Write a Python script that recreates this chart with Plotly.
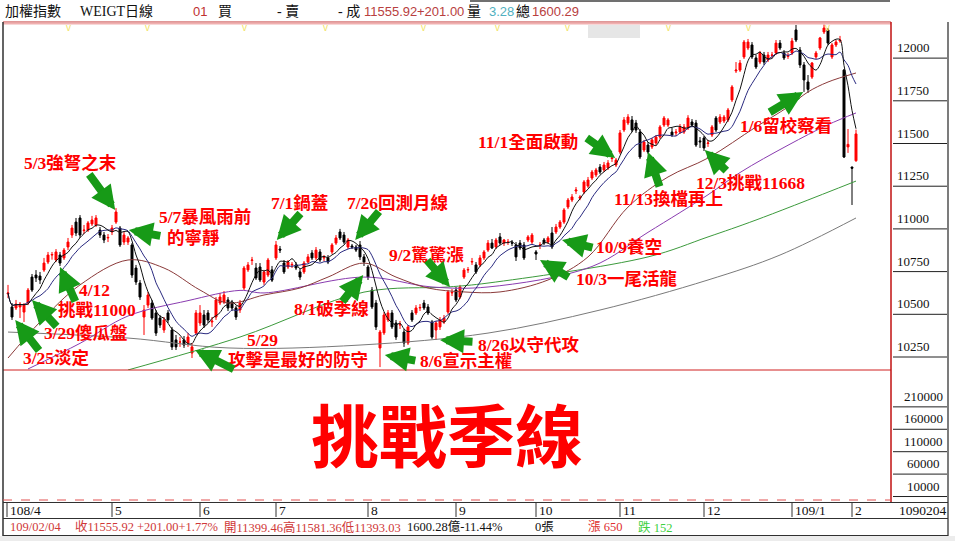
import plotly.graph_objects as go
import pandas as pd

# ---- daily candles, trading-day index 0 = 108/03/22 ----
open_ = [10620,10543,10537,10543,10513,10566,
 10718,10730,10724,10759,10806,10847,10818,10847,10830,10894,10964,11040,11064,10990,10993,11029,11023,10993,10964,10947,
 10982,11040,11005,10923,10923,10906,10771,10683,10484,10554,10566,10508,10478,10408,10508,10408,10350,10338,10350,10332,10273,10390,
 10449,10496,10508,10455,10484,10566,10572,10584,10566,10537,10525,10654,10760,10815,10771,10777,10689,10730,10760,
 10830,10882,10800,10777,10789,10789,10748,10748,10806,10859,10830,10865,10830,10830,10865,10917,10982,10964,10894,10900,10894,10906,10836,
 10777,10642,10566,10303,10391,10467,10508,10449,10437,10396,10332,10508,10508,10537,10566,10543,10455,10408,10426,10455,10513,10625,
 10642,10601,10718,10759,10806,10789,10789,10830,10876,10917,10894,10953,10917,10920,10918,10906,10917,10906,10935,10923,
 10865,10903,10935,10923,10976,10982,11011,11040,11128,11169,11222,11180,11216,11251,11298,11316,11362,11345,11357,11412,11374,
 11450,11579,11620,11638,11620,11567,11462,11491,11480,11503,11538,11608,11608,11567,11562,11567,11567,11591,11626,11620,11515,
 11532,11500,11550,11649,11626,11632,11638,11755,11925,11930,12007,12059,12077,12001,11977,12018,11989,12016,12030,12088,12030,12010,
 12030,12165,12047,11960,11860,11889,12007,12059,12153,12165,12007,12077,12100,11930,11480,
 11362,11399]
high = [10672,10566,10584,10572,10566,10654,
 10736,10759,10748,10830,10865,10865,10882,10865,10888,10947,11023,11064,11081,11023,11046,11076,11081,11011,10982,10970,
 11023,11122,11017,10982,10958,10917,10789,10701,10554,10631,10584,10525,10496,10484,10525,10426,10379,10367,10373,10391,10332,10525,
 10554,10525,10525,10484,10601,10625,10636,10601,10584,10549,10584,10783,10806,10836,10800,10800,10760,10830,10783,
 10929,10900,10818,10818,10806,10806,10765,10812,10853,10876,10894,10882,10847,10847,10917,10964,11000,10982,10947,10912,10906,10929,10853,
 10789,10660,10584,10408,10513,10525,10525,10467,10461,10414,10437,10525,10554,10560,10584,10560,10467,10461,10484,10496,10642,10648,
 10660,10672,10771,10777,10830,10806,10847,10876,10935,10941,10947,10976,10941,10941,10935,10923,10935,10923,10964,10976,
 10876,10923,10947,10958,11011,11029,11052,11122,11181,11204,11245,11198,11286,11304,11345,11357,11380,11392,11403,11433,11415,
 11579,11655,11672,11661,11638,11585,11521,11509,11532,11550,11608,11661,11649,11591,11585,11614,11614,11666,11643,11638,11538,
 11544,11521,11608,11661,11672,11667,11708,11842,11977,11989,12106,12112,12094,12018,12042,12036,12036,12036,12106,12106,12047,12030,
 12118,12194,12065,11977,11901,11977,12042,12124,12197,12176,12088,12106,12130,11936,11585,
 11365,11581]
low = [10595,10467,10525,10478,10455,10554,
 10631,10689,10677,10748,10794,10820,10806,10783,10818,10876,10947,10958,10947,10970,10982,11017,11011,10947,10917,10923,
 10964,11029,10894,10906,10906,10713,10672,10584,10379,10537,10467,10373,10420,10391,10449,10291,10291,10309,10303,10309,10244,10379,
 10432,10420,10449,10426,10467,10554,10560,10519,10519,10467,10508,10642,10748,10789,10701,10689,10672,10718,10689,
 10818,10859,10736,10765,10771,10759,10701,10736,10800,10818,10818,10806,10812,10794,10853,10906,10935,10912,10882,10882,10865,10818,10783,
 10701,10531,10408,10191,10379,10455,10414,10350,10414,10309,10320,10455,10496,10519,10525,10496,10356,10350,10408,10443,10502,10607,
 10572,10590,10707,10742,10789,10736,10777,10818,10865,10882,10882,10906,10900,10906,10900,10812,10876,10818,10923,10912,
 10818,10882,10906,10912,10882,10970,11000,11029,11116,11157,11204,11168,11204,11240,11286,11304,11321,11333,11345,11392,11362,
 11438,11567,11608,11567,11562,11409,11450,11438,11468,11491,11526,11597,11597,11538,11544,11556,11556,11579,11597,11480,11474,
 11456,11480,11538,11567,11614,11620,11626,11743,11913,11919,11995,12047,11995,11936,11965,11960,11977,12001,12018,12047,11989,11995,
 12018,12094,11942,11802,11796,11878,11995,12047,12141,12077,11995,12065,12090,11415,11445,
 11140,11393]
close = [10625,10484,10560,10560,10554,10642,
 10642,10713,10701,10800,10847,10850,10865,10800,10876,10923,11005,10976,10964,10993,11035,11052,11064,10964,10935,10950,
 11005,11099,10906,10964,10947,10730,10689,10601,10525,10613,10478,10390,10437,10467,10467,10309,10309,10338,10320,10367,10309,10508,
 10508,10437,10467,10460,10584,10601,10613,10537,10537,10484,10566,10771,10789,10818,10713,10701,10748,10818,10700,
 10906,10876,10748,10806,10792,10771,10718,10800,10836,10830,10876,10818,10833,10806,10906,10947,10947,10923,10935,10894,10876,10836,10806,
 10718,10543,10426,10396,10496,10508,10426,10367,10440,10332,10426,10467,10537,10540,10537,10508,10367,10449,10467,10478,10631,10628,
 10584,10660,10759,10762,10809,10748,10830,10865,10917,10888,10935,10917,10935,10923,10917,10836,10888,10830,10953,10964,
 10853,10906,10917,10947,10894,11011,11040,11111,11169,11187,11228,11187,11275,11286,11333,11345,11333,11374,11386,11415,11403,
 11562,11638,11655,11579,11579,11421,11509,11450,11521,11538,11597,11649,11638,11550,11567,11597,11597,11649,11608,11491,11510,
 11474,11503,11597,11579,11655,11655,11696,11831,11930,11971,12094,12094,12007,11948,12030,11977,12018,12018,12088,12059,12001,12015,
 12100,12106,11960,11872,11817,11971,12030,12118,12176,12088,12077,12094,12106,11421,11495,
 11355,11556]

day = list(range(len(close)))

# ---- long moving averages (index, value) ----
ma20_i = [0,8,18,30,39,48,55,64,73,80,89,97,105,114,123,135,145,155,165,175,187,195,200,205,212]
ma20_v = [10244,10455,10672,10818,10771,10642,10566,10613,10654,10718,10800,10718,10654,10631,10631,10701,10836,11128,11304,11415,11597,11714,11802,11860,11913]
ma60_i = [5,18,30,45,58,64,89,106,120,146,160,175,183,195,205,212]
ma60_v = [10180,10330,10490,10580,10640,10625,10718,10660,10660,10780,10980,11200,11330,11490,11610,11679]
ma120_i = [30,58,89,110,120,160,175,187,212]
ma120_v = [10174,10367,10630,10660,10683,10836,10953,11052,11280]
ma240_i = [0,30,55,88,120,148,175,193,212]
ma240_v = [10396,10361,10303,10320,10390,10525,10701,10847,11064]

month_i = [0,26,48,67,90,112,132,153,174,196,211]
month_lab = ["108/4","5","6","7","8","9","10","11","12","109/1","2"]
price_ticks = [10250,10500,10750,11000,11250,11500,11750,12000]
vol_ticks = [10000,60000,110000,160000,210000]

# commentary text and the day/price each green pointer marks
notes = [
    (70, 163, "5/3強弩之末"), (205, 217, "5/7暴風雨前"), (193, 238, "的寧靜"),
    (94, 290, "4/12"), (97, 310, "挑戰11000"), (86, 333, "3/29傻瓜盤"), (56, 358, "3/25淡定"),
    (262, 340, "5/29"), (298, 360, "攻擊是最好的防守"),
    (299, 203, "7/1鍋蓋"), (398, 203, "7/26回測月線"), (426, 255, "9/2驚驚漲"), (331, 309, "8/1破季線"),
    (466, 361, "8/6宣示主權"), (529, 345, "8/26以守代攻"),
    (528, 142, "11/1全面啟動"), (668, 199, "11/13換檔再上"), (629, 247, "10/9養空"), (627, 279, "10/3一尾活龍"),
    (750, 183, "12/3挑戰11668"), (786, 126, "1/6留校察看"),
]
pointer_day = [26.8, 30.2, 13.0, 6.0, 1.8, 46.8, 67.2, 86.8, 88.8, 110.5, 94.2, 108.0, 151.8, 160.0, 138.5, 133.0, 174.2, 198.8]
pointer_val = [11111, 10993, 10777, 10584, 10467, 10291, 10935, 10935, 10730, 10660, 10262, 10350, 11415, 11450, 10935, 10818, 11462, 11801]
pointer_dx = [-27, 33, 16, 26, 25, 40, 25, 25, -22, -24, 32, 34, -30, 12, 32, 30, 23, -35]
pointer_dy = [-37, 6, 36, 28, 32, 20, -28, -30, 28, -28, 6, 2, -21, 36, 8, 18, 22, 21]

W, H = 955, 541
def py(p):  # pixel row -> paper y
    return 1 - p / H
def px(p):
    return p / W

s = pd.Series(close, dtype=float)
ma5 = s.rolling(5, min_periods=1).mean()
ma10 = s.rolling(10, min_periods=1).mean()

fig = go.Figure()
line_specs = [
    (ma240_i, ma240_v, "#7a7a7a"),
    (ma120_i, ma120_v, "#3c9a3c"),
    (ma60_i, ma60_v, "#8a3cb0"),
    (ma20_i, ma20_v, "#8b3a3a"),
]
for xi, yv, col in line_specs:
    fig.add_trace(go.Scatter(x=xi, y=yv, mode="lines", line=dict(color=col, width=1, shape="spline"),
                             hoverinfo="skip", showlegend=False))
fig.add_trace(go.Scatter(x=day, y=ma10, mode="lines", line=dict(color="#2a2a80", width=1, shape="spline"),
                         hoverinfo="skip", showlegend=False))
fig.add_trace(go.Scatter(x=day, y=ma5, mode="lines", line=dict(color="#111111", width=1, shape="spline"),
                         hoverinfo="skip", showlegend=False))
fig.add_trace(go.Candlestick(
    x=day, open=open_, high=high, low=low, close=close,
    increasing=dict(line=dict(color="#ff0000", width=1), fillcolor="#ff0000"),
    decreasing=dict(line=dict(color="#000000", width=1), fillcolor="#000000"),
    whiskerwidth=0, showlegend=False))

X0, X1 = 3, 891
i_lo = (X0 - 8) / 4
i_hi = (X1 - 8) / 4
fig.update_layout(
    width=W, height=H, margin=dict(l=0, r=0, t=0, b=0),
    paper_bgcolor="#ffffff", plot_bgcolor="#ffffff",
    showlegend=False,
    xaxis=dict(domain=[px(X0), px(X1)], range=[i_lo, i_hi], showgrid=False, zeroline=False,
               showticklabels=False, rangeslider=dict(visible=False), fixedrange=True),
    yaxis=dict(domain=[py(370), py(22)], range=[10250 - 13 * 5.855, 10250 + 335 * 5.855],
               showgrid=False, zeroline=False, showticklabels=False),
    xaxis2=dict(domain=[px(X0), px(X1)], range=[i_lo, i_hi], anchor="y2", visible=False),
    yaxis2=dict(domain=[py(501), py(371)], range=[0, 290000], anchor="x2", visible=False),
)

shapes = []
ann = []
# frame lines
shapes += [
    dict(type="rect", xref="paper", yref="paper", x0=0, x1=1, y0=0, y1=py(536), fillcolor="#ececec", line_width=0, layer="below"),
    dict(type="line", xref="paper", yref="paper", x0=px(X0), x1=px(X1), y0=py(22), y1=py(22), line=dict(color="#c03030", width=1)),
    dict(type="line", xref="paper", yref="paper", x0=px(X0), x1=px(X1), y0=py(23.5), y1=py(23.5), line=dict(color="#f0b0b0", width=2)),
    dict(type="line", xref="paper", yref="paper", x0=px(X0), x1=px(X1), y0=py(370), y1=py(370), line=dict(color="#d02020", width=1)),
    dict(type="line", xref="paper", yref="paper", x0=px(X1), x1=px(X1), y0=py(502), y1=py(22), line=dict(color="#c01010", width=1.5)),
    dict(type="line", xref="paper", yref="paper", x0=px(3), x1=px(3), y0=py(536), y1=py(22), line=dict(color="#303030", width=1.5)),
    dict(type="line", xref="paper", yref="paper", x0=px(948), x1=px(948), y0=py(536), y1=py(22), line=dict(color="#505050", width=1.5)),
    dict(type="line", xref="paper", yref="paper", x0=px(X0), x1=px(X1), y0=py(500), y1=py(500), line=dict(color="#e05050", width=1, dash="dash")),
    dict(type="line", xref="paper", yref="paper", x0=px(3), x1=px(948), y0=py(502.5), y1=py(502.5), line=dict(color="#303030", width=1)),
    dict(type="line", xref="paper", yref="paper", x0=px(3), x1=px(948), y0=py(518.5), y1=py(518.5), line=dict(color="#303030", width=1)),
    dict(type="line", xref="paper", yref="paper", x0=px(3), x1=px(948), y0=py(535.5), y1=py(535.5), line=dict(color="#303030", width=1)),
    dict(type="line", xref="paper", yref="paper", x0=px(470), x1=px(890), y0=py(1), y1=py(1), line=dict(color="#404040", width=1.5)),
    dict(type="rect", xref="paper", yref="paper", x0=px(588), x1=px(640), y0=py(38), y1=py(25), fillcolor="#e6e6e6", line_width=0),
]

serif = "Liberation Serif, Noto Sans CJK TC, serif"
sans = "Liberation Sans, Noto Sans CJK TC, sans-serif"

# right price axis
for v in price_ticks:
    shapes.append(dict(type="line", xref="paper", yref="y", x0=px(893), x1=px(947), y0=v, y1=v,
                       line=dict(color="#202020", width=1)))
    ann.append(dict(xref="paper", yref="y", x=px(895), y=v, text=str(v), showarrow=False, xanchor="left",
                    yanchor="bottom", yshift=1, font=dict(family=serif, size=13, color="#111111")))
for v in vol_ticks:
    shapes.append(dict(type="line", xref="paper", yref="y2", x0=px(893), x1=px(947), y0=v, y1=v,
                       line=dict(color="#202020", width=1)))
    ann.append(dict(xref="paper", yref="y2", x=px(923), y=v, text=str(v), showarrow=False, xanchor="center",
                    yanchor="bottom", yshift=1, font=dict(family=serif, size=13, color="#111111")))

# month labels
for i, lab in zip(month_i, month_lab):
    xx = i if i else (7 - 8) / 4
    shapes.append(dict(type="line", xref="x", yref="paper", x0=xx, x1=xx,
                       y0=py(517), y1=py(503), line=dict(color="#303030", width=1)))
    ann.append(dict(xref="x", yref="paper", x=xx, y=py(510), text=lab, showarrow=False,
                    xanchor="left", yanchor="middle", xshift=1, font=dict(family=serif, size=13.5, color="#111111")))
ann.append(dict(xref="paper", yref="paper", x=px(949), y=py(510), text="1090204", showarrow=False, xanchor="right",
                yanchor="middle", font=dict(family=serif, size=13.5, color="#111111")))

# header row
hdr = [
    (3, "加權指數", "#111111", serif, 14),
    (78, "WEIGT日線", "#111111", serif, 14),
    (191, "01", "#c03030", sans, 13),
    (216, "買", "#111111", serif, 14),
    (275, "- 賣", "#111111", serif, 14),
    (336, "- 成", "#111111", serif, 14),
    (362, "11555.92", "#b84040", sans, 13),
    (415, "+201.00", "#b84040", sans, 13),
    (465, "量", "#111111", serif, 14),
    (487, "3.28", "#50b0c0", sans, 13),
    (514, "總", "#111111", serif, 14),
    (530, "1600.29", "#b84040", sans, 13),
]
for x, t, c, f, sz in hdr:
    ann.append(dict(xref="paper", yref="paper", x=px(x), y=py(11), text=t, showarrow=False, xanchor="left",
                    yanchor="middle", font=dict(family=f, size=sz, color=c)))

# footer row
ftr = [
    (8, "109/02/04", "#d03838"),
    (73, "收11555.92 +201.00+1.77%", "#d03838"),
    (222, "開11399.46高11581.36低11393.03", "#d03838"),
    (405, "1600.28億-11.44%", "#111111"),
    (533, "0張", "#111111"),
    (586, "漲 650", "#e03030"),
    (636, "跌 152", "#40d040"),
]
for x, t, c in ftr:
    ann.append(dict(xref="paper", yref="paper", x=px(x), y=py(527), text=t, showarrow=False, xanchor="left",
                    yanchor="middle", font=dict(family=serif, size=12.5, color=c)))

# small yellow signal marks along the top edge
for xm in [68, 147, 244, 325, 423, 498, 567, 668, 748, 827]:
    ann.append(dict(xref="paper", yref="paper", x=px(xm), y=py(28), text="v", showarrow=False,
                    xanchor="center", yanchor="middle", font=dict(family=sans, size=10, color="#f2e36a")))

# title in lower panel
ann.append(dict(xref="paper", yref="paper", x=px(447), y=py(432), text="<b>挑戰季線</b>", showarrow=False,
                xanchor="center", yanchor="middle",
                font=dict(family="Noto Sans CJK TC", size=68, color="#ff0000")))

for x, y, t in notes:
    ann.append(dict(xref="paper", yref="paper", x=px(x), y=py(y), text="<b>" + t + "</b>", showarrow=False,
                    xanchor="center", yanchor="middle",
                    font=dict(family=serif, size=17.5, color="#ff0000")))

for i, v, dx, dy in zip(pointer_day, pointer_val, pointer_dx, pointer_dy):
    ann.append(dict(xref="x", yref="y", x=i, y=v, ax=dx, ay=dy, text="", showarrow=True,
                    arrowhead=2, arrowsize=0.6, arrowwidth=8, arrowcolor="#179a17", standoff=0))

fig.update_layout(shapes=shapes, annotations=ann)
fig.write_html("out.html")
